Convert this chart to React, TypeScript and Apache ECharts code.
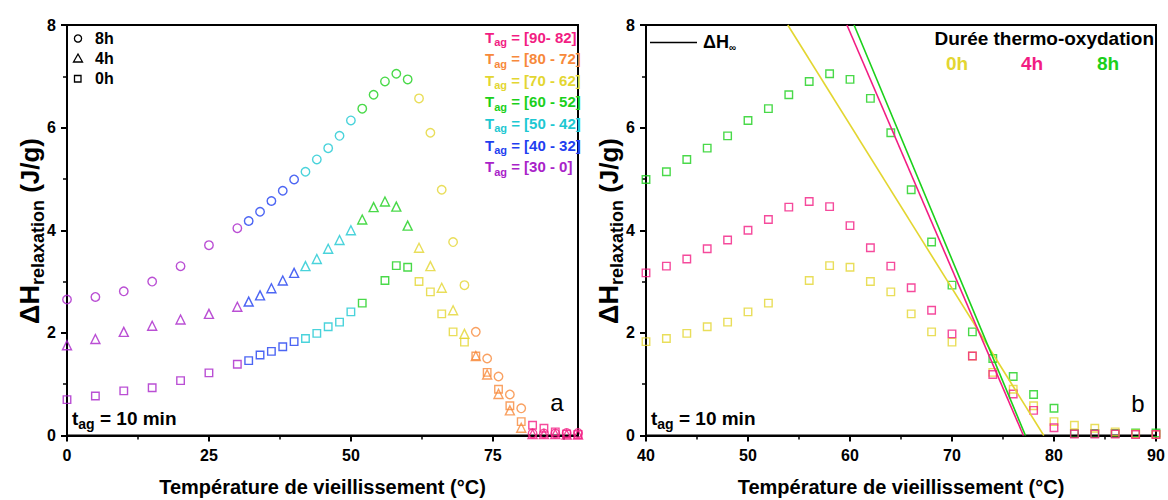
import React, { useEffect, useRef } from "react";
import * as echarts from "echarts";

const FONT = "'Liberation Sans', Arial, sans-serif";

// Température de vieillissement (°C)
const temps = [0, 5, 10, 15, 20, 25, 30, 32, 34, 36, 38, 40, 42, 44, 46, 48, 50, 52, 54, 56, 58, 60, 62, 64, 66, 68, 70, 72, 74, 76, 78, 80, 82, 84, 86, 88, 90];
// ΔH relaxation (J/g) after 8h, 4h, 0h of thermo-oxidation
const h8 = [2.65, 2.70, 2.81, 3.00, 3.30, 3.71, 4.04, 4.18, 4.36, 4.57, 4.77, 4.99, 5.14, 5.38, 5.60, 5.84, 6.14, 6.37, 6.64, 6.90, 7.05, 6.94, 6.57, 5.90, 4.79, 3.77, 2.93, 2.02, 1.50, 1.15, 0.80, 0.53, 0.04, 0.04, 0.04, 0.05, 0.05];
const h4 = [1.76, 1.88, 2.02, 2.14, 2.26, 2.37, 2.51, 2.61, 2.73, 2.87, 3.02, 3.17, 3.30, 3.44, 3.64, 3.81, 4.00, 4.21, 4.45, 4.56, 4.46, 4.09, 3.66, 3.30, 2.88, 2.44, 1.98, 1.55, 1.19, 0.81, 0.49, 0.15, 0.03, 0.03, 0.03, 0.02, 0.02];
const h0 = [0.70, 0.77, 0.87, 0.93, 1.07, 1.22, 1.39, 1.46, 1.57, 1.64, 1.73, 1.83, 1.89, 1.99, 2.12, 2.21, 2.41, 2.58, null, 3.02, 3.31, 3.28, 3.00, 2.80, 2.37, 2.02, 1.82, 1.55, 1.23, 0.90, 0.58, 0.27, 0.20, 0.14, 0.07, 0.03, 0.02];

// Aging temperature ranges (legend)
const rangeLabels = ["[90- 82]", "[80 - 72]", "[70 - 62]", "[60 - 52]", "[50 - 42]", "[40 - 32]", "[30 - 0]"];
const rangeLow = [82, 72, 62, 52, 42, 32, 0];
const rangeColors = ["#F21D83", "#F7893B", "#E3D631", "#1BD01B", "#1DC8D2", "#1F3FF0", "#A923C9"];

// Right panel: durations and ΔH∞ lines (endpoints)
const durations = ["0h", "4h", "8h"];
const durationColors = ["#E3D631", "#F21D83", "#1BD01B"];
const infLine0h = [[53.9, 8], [79.0, 0]];
const infLine4h = [[59.7, 8], [77.0, 0]];
const infLine8h = [[60.4, 8], [77.2, 0]];

// Axis ticks
const xTicksLeft = [0, 25, 50, 75];
const yTicks = [0, 2, 4, 6, 8];

function colorFor(t: number) {
  const i = rangeLow.findIndex((l) => t >= l);
  return rangeColors[i];
}

export default function App() {
  const ref = useRef<HTMLDivElement>(null);
  useEffect(() => {
    if (!ref.current) return;
    const chart = echarts.init(ref.current, null, { renderer: "svg" });

    const axisBase = (extra: any) => ({
      type: "value",
      axisLine: { show: true, onZero: false, lineStyle: { color: "#000", width: 2 } },
      axisTick: { show: true, length: 6, inside: false, lineStyle: { color: "#000", width: 2 } },
      minorTick: { show: true, splitNumber: 2, length: 4, lineStyle: { color: "#000", width: 1.5 } },
      axisLabel: { color: "#000", fontSize: 16, fontWeight: "bold", fontFamily: FONT },
      splitLine: { show: false },
      ...extra,
    });

    const xName = {
      name: "Température de vieillissement (°C)",
      nameLocation: "middle",
      nameGap: 41,
      nameTextStyle: { color: "#000", fontSize: 20, fontWeight: "bold", fontFamily: FONT },
    };

    const leftSeries = (name: string, vals: (number | null)[], symbol: string, size: number) => ({
      type: "scatter",
      name,
      xAxisIndex: 0,
      yAxisIndex: 0,
      symbol,
      symbolSize: size,
      itemStyle: { color: "transparent", borderWidth: 1.4 },
      data: temps
        .map((t, i) => (vals[i] == null ? null : { value: [t, vals[i]], itemStyle: { color: "transparent", borderColor: colorFor(t), borderWidth: 1.4 } }))
        .filter((d) => d !== null),
    });

    const rightSeries = (name: string, vals: (number | null)[], color: string) => ({
      type: "scatter",
      name,
      xAxisIndex: 1,
      yAxisIndex: 1,
      symbol: "rect",
      symbolSize: 7.5,
      itemStyle: { color: "transparent", borderColor: color, borderWidth: 1.4 },
      data: temps
        .map((t, i) => (t >= 40 && vals[i] != null ? [t, vals[i]] : null))
        .filter((d) => d !== null),
    });

    const infSeries = (data: number[][], color: string) => ({
      type: "line",
      xAxisIndex: 1,
      yAxisIndex: 1,
      symbol: "none",
      z: 5,
      lineStyle: { color, width: 1.6 },
      data,
    });

    const sub = (fs: number, pad: number) => ({ fontSize: fs, fontWeight: "bold", fontFamily: FONT, padding: [pad, 0, 0, 0] });

    const tagLegend = rangeLabels.map((lab, i) => ({
      type: "text",
      x: 485,
      y: 37 + i * 21.6,
      style: {
        text: `{T|T}{s|ag}{n| = ${lab}}`,
        fill: rangeColors[i],
        verticalAlign: "middle",
        align: "left",
        rich: {
          T: { fontSize: 15, fontWeight: "bold", fontFamily: FONT, fill: rangeColors[i] },
          s: { ...sub(11, 10), fill: rangeColors[i] },
          n: { fontSize: 15, fontWeight: "bold", fontFamily: FONT, fill: rangeColors[i] },
        },
      },
    }));

    const yTitle = (x: number) => ({
      type: "text",
      x,
      y: 231,
      rotation: Math.PI / 2,
      style: {
        text: "{d|ΔH}{s|relaxation}{u| (J/g)}",
        align: "center",
        verticalAlign: "middle",
        fill: "#000",
        rich: {
          d: { fontSize: 27, fontWeight: "bold", fontFamily: FONT, fill: "#000" },
          s: { ...sub(18, 15), fill: "#000" },
          u: { fontSize: 26, fontWeight: "bold", fontFamily: FONT, fill: "#000" },
        },
      },
    });

    const tagText = (x: number) => ({
      type: "text",
      x,
      y: 418,
      style: {
        text: "{t|t}{s|ag}{n| = 10 min}",
        align: "left",
        verticalAlign: "middle",
        fill: "#000",
        rich: {
          t: { fontSize: 19, fontWeight: "bold", fontFamily: FONT, fill: "#000" },
          s: { ...sub(14, 12), fill: "#000" },
          n: { fontSize: 19, fontWeight: "bold", fontFamily: FONT, fill: "#000" },
        },
      },
    });

    const bold = (size: number) => `bold ${size}px ${FONT}`;

    const graphic: any[] = [
      yTitle(30),
      yTitle(609),
      tagText(72),
      tagText(651),
      { type: "text", x: 557, y: 402, style: { text: "a", font: `24px ${FONT}`, fill: "#000", align: "center", verticalAlign: "middle" } },
      { type: "text", x: 1138, y: 403, style: { text: "b", font: `24px ${FONT}`, fill: "#000", align: "center", verticalAlign: "middle" } },
      // left symbol legend
      { type: "circle", shape: { cx: 78, cy: 38.5, r: 3.6 }, style: { fill: "none", stroke: "#000", lineWidth: 1.3 } },
      { type: "polygon", shape: { points: [[78, 54], [73.5, 62], [82.5, 62]] }, style: { fill: "none", stroke: "#000", lineWidth: 1.3 } },
      { type: "rect", shape: { x: 74.5, y: 75.5, width: 6.5, height: 6.5 }, style: { fill: "none", stroke: "#000", lineWidth: 1.3 } },
      { type: "text", x: 95, y: 38.5, style: { text: "8h", font: bold(16), fill: "#000", verticalAlign: "middle" } },
      { type: "text", x: 95, y: 58.5, style: { text: "4h", font: bold(16), fill: "#000", verticalAlign: "middle" } },
      { type: "text", x: 95, y: 78.5, style: { text: "0h", font: bold(16), fill: "#000", verticalAlign: "middle" } },
      ...tagLegend,
      // right legend
      { type: "line", shape: { x1: 650, y1: 42.5, x2: 697, y2: 42.5 }, style: { stroke: "#000", lineWidth: 1.5 } },
      {
        type: "text",
        x: 703,
        y: 42,
        style: {
          text: "{d|ΔH}{s|∞}",
          verticalAlign: "middle",
          fill: "#000",
          rich: {
            d: { fontSize: 18, fontWeight: "bold", fontFamily: FONT, fill: "#000" },
            s: { ...sub(10, 10), fill: "#000" },
          },
        },
      },
      { type: "text", x: 1154, y: 38, style: { text: "Durée thermo-oxydation", font: bold(19), fill: "#000", align: "right", verticalAlign: "middle" } },
      ...durations.map((d, i) => ({
        type: "text",
        x: [957, 1032, 1108][i],
        y: 63,
        style: { text: d, font: bold(19), fill: durationColors[i], align: "center", verticalAlign: "middle" },
      })),
    ];

    chart.setOption({
      animation: false,
      backgroundColor: "#fff",
      grid: [
        { left: 67, top: 25, width: 511, height: 410.5, show: true, borderColor: "#000", borderWidth: 2, backgroundColor: "transparent", containLabel: false, outerBoundsMode: "none" },
        { left: 646, top: 25, width: 510, height: 410.5, show: true, borderColor: "#000", borderWidth: 2, backgroundColor: "transparent", containLabel: false, outerBoundsMode: "none" },
      ],
      xAxis: [
        axisBase({
          gridIndex: 0,
          min: 0,
          max: 90,
          interval: 25,
          ...xName,
          axisTick: { show: true, length: 6, inside: false, customValues: xTicksLeft, lineStyle: { color: "#000", width: 2 } },
          axisLabel: { color: "#000", fontSize: 16, fontWeight: "bold", fontFamily: FONT, margin: 12, customValues: xTicksLeft },
        }),
        axisBase({
          gridIndex: 1,
          min: 40,
          max: 90,
          interval: 10,
          ...xName,
          axisLabel: { color: "#000", fontSize: 16, fontWeight: "bold", fontFamily: FONT, margin: 12 },
        }),
      ],
      yAxis: [
        axisBase({ gridIndex: 0, min: 0, max: 8, interval: 2, axisLabel: { color: "#000", fontSize: 16, fontWeight: "bold", fontFamily: FONT, margin: 11, customValues: yTicks } }),
        axisBase({ gridIndex: 1, min: 0, max: 8, interval: 2, axisLabel: { color: "#000", fontSize: 16, fontWeight: "bold", fontFamily: FONT, margin: 11, customValues: yTicks } }),
      ],
      series: [
        leftSeries("0h", h0, "rect", 7.5),
        leftSeries("4h", h4, "triangle", 9),
        leftSeries("8h", h8, "circle", 8.5),
        rightSeries("8h", h8, durationColors[2]),
        rightSeries("0h", h0, durationColors[0]),
        rightSeries("4h", h4, durationColors[1]),
        infSeries(infLine0h, durationColors[0]),
        infSeries(infLine4h, durationColors[1]),
        infSeries(infLine8h, durationColors[2]),
      ],
      graphic,
    });
    return () => chart.dispose();
  }, []);
  return <div ref={ref} style={{ position: "fixed", left: 0, top: 0, width: 1168, height: 500, background: "#fff" }} />;
}
